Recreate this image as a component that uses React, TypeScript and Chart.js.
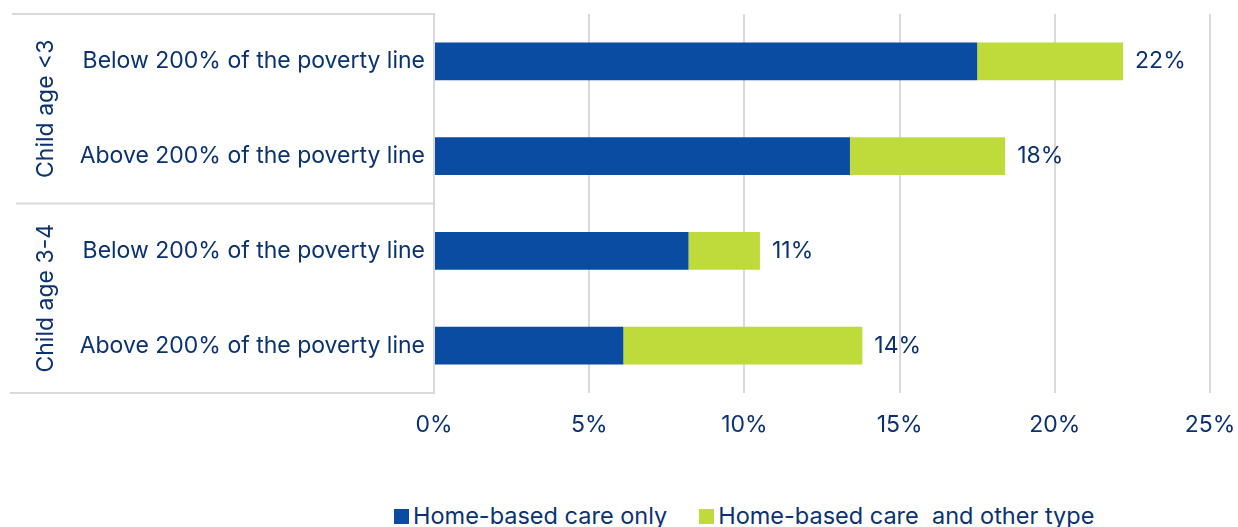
import React, { useEffect, useRef } from "react";
import { Chart, registerables } from "chart.js";

Chart.register(...registerables);

const categories = [
  "Below 200% of the poverty line",
  "Above 200% of the poverty line",
  "Below 200% of the poverty line",
  "Above 200% of the poverty line",
];
const groups = ["Child age <3", "Child age 3-4"];
const homeOnly = [17.5, 13.4, 8.2, 6.1];
const homeAndOther = [4.7, 5.0, 2.3, 7.7];
const xTicks = [0, 5, 10, 15, 20, 25];
const seriesNames = ["Home-based care only", "Home-based care  and other type"];

const NAVY = "#0b3270";
const BLUE = "#0a4ca1";
const GREEN = "#bedb3b";
const GRID = "#d9d9d9";
const FONT = "Inter, 'Liberation Sans', Arial, sans-serif";

const decorPlugin = {
  id: "decor",
  afterDraw(chart: any) {
    const { ctx, chartArea } = chart;
    const y = chart.scales.y;
    const x = chart.scales.x;
    ctx.save();
    const mid = (y.getPixelForValue(1) + y.getPixelForValue(2)) / 2;
    ctx.strokeStyle = GRID;
    ctx.lineWidth = 2;
    const lines: [number, number][] = [
      [chartArea.top, 12],
      [mid, 16],
      [chartArea.bottom, 10],
    ];
    lines.forEach(([ly, lx]) => {
      ctx.beginPath();
      ctx.moveTo(lx, ly);
      ctx.lineTo(chartArea.left, ly);
      ctx.stroke();
    });
    ctx.fillStyle = NAVY;
    ctx.font = `23px ${FONT}`;
    ctx.textAlign = "center";
    ctx.textBaseline = "middle";
    groups.forEach((g, gi) => {
      const cy = (y.getPixelForValue(gi * 2) + y.getPixelForValue(gi * 2 + 1)) / 2;
      ctx.save();
      ctx.translate(46, cy);
      ctx.rotate(-Math.PI / 2);
      ctx.fillText(g, 0, 0);
      ctx.restore();
    });
    ctx.textAlign = "left";
    homeOnly.forEach((v, i) => {
      const total = v + homeAndOther[i];
      const px = x.getPixelForValue(total) + 12;
      const py = y.getPixelForValue(i);
      ctx.fillText(`${Math.round(total)}%`, px, py);
    });
    ctx.restore();
  },
};

export default function App() {
  const ref = useRef<HTMLCanvasElement | null>(null);
  useEffect(() => {
    if (!ref.current) return;
    const chart = new Chart(ref.current, {
      type: "bar",
      data: {
        labels: categories,
        datasets: [
          {
            label: seriesNames[0],
            data: homeOnly,
            backgroundColor: BLUE,
            categoryPercentage: 0.8,
            barPercentage: 0.5,
          },
          {
            label: seriesNames[1],
            data: homeAndOther,
            backgroundColor: GREEN,
            categoryPercentage: 0.8,
            barPercentage: 0.5,
          },
        ],
      },
      options: {
        indexAxis: "y",
        animation: false,
        responsive: false,
        maintainAspectRatio: false,
        layout: { padding: { top: 14, right: 28, left: 0, bottom: 0 } },
        plugins: {
          legend: { display: false },
          tooltip: { enabled: false },
        },
        scales: {
          x: {
            stacked: true,
            min: 0,
            max: 25,
            afterBuildTicks: (s: any) => {
              s.ticks = xTicks.map((v) => ({ value: v }));
            },
            afterFit: (s: any) => {
              s.height = 47;
              s.paddingLeft = 0;
              s.paddingRight = 0;
            },
            grid: { color: GRID, lineWidth: 2, drawTicks: false },
            border: { display: false },
            ticks: {
              color: NAVY,
              font: { family: FONT, size: 23 },
              padding: 18,
              callback: (v: any) => `${v}%`,
            },
          },
          y: {
            stacked: true,
            afterFit: (s: any) => {
              s.width = 434;
              s.paddingTop = 0;
              s.paddingBottom = 0;
            },
            grid: { display: false, drawTicks: false },
            border: { display: true, color: GRID, width: 2 },
            ticks: {
              color: NAVY,
              font: { family: FONT, size: 23 },
              padding: 9,
            },
          },
        },
      },
      plugins: [decorPlugin],
    });
    return () => chart.destroy();
  }, []);

  const colors = [BLUE, GREEN];
  return (
    <div style={{ position: "absolute", left: 0, top: 0, width: 1238, height: 527, background: "#fff", overflow: "hidden" }}>
      <canvas ref={ref} width={1238} height={440} style={{ display: "block" }} />
      <div
        style={{
          position: "absolute",
          left: 394,
          top: 501,
          display: "flex",
          alignItems: "center",
          fontFamily: FONT,
          fontSize: 23.5,
          color: NAVY,
          lineHeight: "30px",
          whiteSpace: "pre",
        }}
      >
        {seriesNames.map((n, i) => (
          <div key={n} style={{ display: "flex", alignItems: "center", marginRight: i === 0 ? 32 : 0 }}>
            <span style={{ display: "inline-block", width: 15, height: 15, background: colors[i], marginRight: 4 }} />
            <span>{n}</span>
          </div>
        ))}
      </div>
    </div>
  );
}
